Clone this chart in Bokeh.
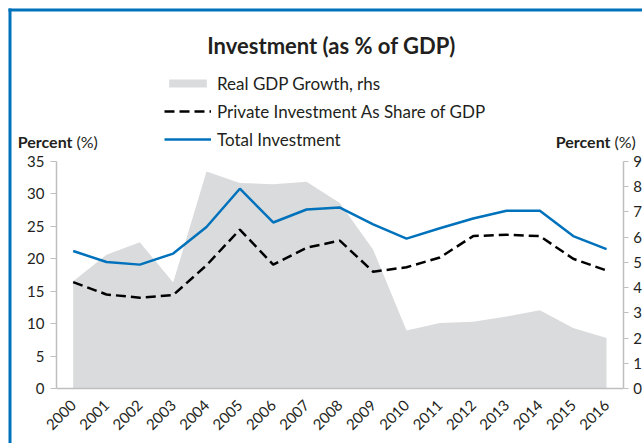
import math
from bokeh.plotting import figure
from bokeh.models import (Range1d, LinearAxis, FixedTicker, Legend, LegendItem,
                          Label, ColumnDataSource, BoxAnnotation)
from bokeh.embed import file_html
from bokeh.resources import INLINE

years = [2000, 2001, 2002, 2003, 2004, 2005, 2006, 2007, 2008,
         2009, 2010, 2011, 2012, 2013, 2014, 2015, 2016]
total_investment = [21.2, 19.5, 19.1, 20.8, 24.9, 30.8, 25.6, 27.6, 27.9,
                    25.3, 23.1, 24.7, 26.2, 27.4, 27.4, 23.5, 21.5]
private_investment = [16.4, 14.5, 14.0, 14.4, 19.0, 24.5, 19.1, 21.7, 22.8,
                      18.0, 18.7, 20.2, 23.5, 23.7, 23.5, 20.0, 18.2]
gdp_growth = [4.25, 5.3, 5.8, 4.2, 8.6, 8.15, 8.1, 8.2, 7.35,
              5.5, 2.3, 2.6, 2.65, 2.85, 3.1, 2.4, 2.0]

left_ticks = [0, 5, 10, 15, 20, 25, 30, 35]
right_ticks = [0, 1, 2, 3, 4, 5, 6, 7, 8, 9]
left_max = 35
right_max = 9

BLUE = "#0072BC"
GREY = "#DADBDC"
AXIS = "#BFBFBF"
TXT = "#231F20"
FONT = "Lato"

# ---- layout (pixels on the 642x443 canvas) ----
W, H = 642, 443
PX_X0, PX_X1 = 56.0, 622.7      # left / right axis positions
PX_Y0, PX_YTOP = 388.0, 161.0   # value 0 / top tick positions
xa0, xa1 = years[0] - 0.5, years[-1] + 0.5
xpp = (xa1 - xa0) / (PX_X1 - PX_X0)
x_start = xa0 - PX_X0 * xpp
x_end = xa1 + (W - PX_X1) * xpp
ypp_l = left_max / (PX_Y0 - PX_YTOP)
ypp_r = right_max / (PX_Y0 - PX_YTOP)

src = ColumnDataSource(dict(year=years, tot=total_investment,
                            priv=private_investment, gdp=gdp_growth,
                            zero=[0] * len(years)))

p = figure(width=W, height=H, output_backend="svg", toolbar_location=None,
           x_range=Range1d(x_start, x_end),
           y_range=Range1d(-(H - PX_Y0) * ypp_l, PX_Y0 * ypp_l),
           min_border=0, min_border_left=0, min_border_right=0,
           min_border_top=0, min_border_bottom=0)
p.title.visible = False
p.extra_y_ranges = {"gdp": Range1d(-(H - PX_Y0) * ypp_r, PX_Y0 * ypp_r)}
p.outline_line_color = None
p.grid.grid_line_color = None
p.background_fill_color = "white"
p.border_fill_color = "white"

area = p.varea(x="year", y1="zero", y2="gdp", source=src, fill_color=GREY,
               y_range_name="gdp")
priv = p.line(x="year", y="priv", source=src, line_color="black",
              line_width=2.5, line_dash="10 5")
tot = p.line(x="year", y="tot", source=src, line_color=BLUE, line_width=2.5)

# axes (fixed inside the frame so nothing outside it gets clipped)
xa = p.xaxis[0]
xa.fixed_location = 0
xa.bounds = (xa0, xa1)
xa.ticker = FixedTicker(ticks=years)
xa.major_label_orientation = math.pi / 4
xa.major_tick_line_color = None
xa.minor_tick_line_color = None
xa.axis_line_color = AXIS
xa.axis_line_width = 1.5
xa.major_label_text_font = FONT
xa.major_label_text_font_size = "15px"
xa.major_label_text_color = TXT
xa.major_label_standoff = 8

ya = p.yaxis[0]
ya.fixed_location = xa0
ya.bounds = (0, left_max)
ya.ticker = FixedTicker(ticks=left_ticks)
ya.minor_tick_line_color = None
ya.major_tick_in = 0
ya.major_tick_out = 6
ya.major_tick_line_color = AXIS
ya.axis_line_color = AXIS
ya.axis_line_width = 1.5
ya.major_label_text_font = FONT
ya.major_label_text_font_size = "15px"
ya.major_label_text_color = TXT
ya.major_label_standoff = 6

ra = LinearAxis(y_range_name="gdp", ticker=FixedTicker(ticks=right_ticks))
ra.fixed_location = xa1
ra.bounds = (0, right_max)
ra.minor_tick_line_color = None
ra.major_tick_in = 0
ra.major_tick_out = 5
ra.major_tick_line_color = AXIS
ra.axis_line_color = AXIS
ra.axis_line_width = 1.5
ra.major_label_text_font = FONT
ra.major_label_text_font_size = "15px"
ra.major_label_text_color = TXT
ra.major_label_standoff = 5
p.add_layout(ra, "right")

# legend (location = bottom-left of legend box, relative to frame bottom-left)
legend = Legend(items=[
    LegendItem(label="Real GDP Growth, rhs", renderers=[area]),
    LegendItem(label="Private Investment As Share of GDP", renderers=[priv]),
    LegendItem(label="Total Investment", renderers=[tot]),
], location=(164, H - 149.5))
legend.background_fill_alpha = 0
legend.border_line_alpha = 0
legend.padding = 0
legend.margin = 0
legend.spacing = 7
legend.glyph_width = 47
legend.glyph_height = 10
legend.label_height = 20
legend.label_standoff = 6
legend.label_text_font = FONT
legend.label_text_font_size = "17px"
legend.label_text_color = TXT
p.add_layout(legend, "center")

# title and axis captions (frame-relative screen coordinates, y up)
def lab(text, x, y_from_top, size, style="normal", align="left"):
    p.add_layout(Label(x=x, y=H - y_from_top, x_units="screen", y_units="screen",
                       text=text, text_font=FONT, text_font_size=size,
                       text_font_style=style, text_color=TXT, text_align=align,
                       text_baseline="middle"))

lab("Investment (as % of GDP)", 331, 44.5, "22px", "bold", "center")
lab("Percent", 72, 140.5, "16px", "bold", "right")
lab("(%)", 76, 140.5, "16px")
lab("Percent", 610, 140.5, "16px", "bold", "right")
lab("(%)", 614, 140.5, "16px")

# blue box edges (left and top), screen units relative to the frame
p.add_layout(BoxAnnotation(left=8, right=11, bottom=0, top=H - 8,
                           left_units="screen", right_units="screen",
                           top_units="screen", bottom_units="screen",
                           fill_color=BLUE, fill_alpha=1, line_color=None))
p.add_layout(BoxAnnotation(left=8, right=W, bottom=H - 11, top=H - 8,
                           left_units="screen", right_units="screen",
                           top_units="screen", bottom_units="screen",
                           fill_color=BLUE, fill_alpha=1, line_color=None))

open("out.html", "w").write(file_html(p, INLINE))
